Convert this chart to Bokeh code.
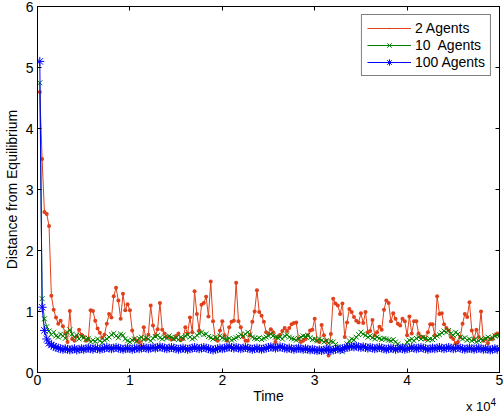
import numpy as np
from bokeh.plotting import figure
from bokeh.models import Range1d, LinearAxis, FixedTicker, Legend, LegendItem, Div
from bokeh.layouts import column
from bokeh.embed import file_html
from bokeh.resources import INLINE

# sample times (every 250 time units)
time = np.arange(250, 50001, 250)

agents_2 = [
    4.60, 3.50, 2.63, 2.60, 2.40, 1.26, 1.03, 0.90, 0.80, 0.85,
    0.76, 0.64, 0.50, 1.01, 0.55, 0.52, 0.59, 0.70, 0.62, 0.58,
    0.52, 0.55, 1.02, 1.01, 0.85, 0.72, 0.65, 0.57, 0.62, 0.80,
    0.96, 0.90, 1.25, 1.39, 1.18, 0.88, 1.29, 1.02, 1.12, 1.02,
    0.69, 0.55, 0.52, 0.50, 0.42, 0.74, 0.55, 0.62, 1.10, 0.77,
    0.60, 0.71, 1.14, 0.70, 0.64, 0.58, 0.58, 0.54, 0.55, 0.60,
    0.64, 0.53, 0.55, 0.74, 0.64, 0.90, 0.66, 1.33, 0.96, 0.69,
    1.11, 1.14, 1.24, 0.92, 1.49, 0.84, 0.55, 0.52, 0.69, 0.84,
    0.61, 0.52, 0.74, 0.83, 0.85, 1.47, 0.84, 0.74, 0.58, 0.52,
    0.52, 0.61, 0.83, 1.00, 1.35, 0.99, 0.93, 0.83, 0.66, 0.63,
    0.71, 0.66, 0.50, 0.58, 0.62, 0.68, 0.73, 0.68, 0.73, 0.79,
    0.81, 0.82, 0.55, 0.50, 0.52, 0.55, 0.61, 0.69, 0.70, 0.88,
    0.52, 0.50, 0.78, 0.61, 0.52, 0.28, 0.63, 1.21, 1.13, 1.10,
    0.96, 1.13, 0.58, 0.82, 1.04, 0.99, 0.91, 0.85, 0.82, 0.97,
    0.81, 0.99, 0.66, 0.68, 0.86, 0.61, 0.66, 0.75, 0.70, 1.03,
    1.18, 1.14, 0.84, 0.97, 0.88, 0.80, 0.77, 0.88, 0.84, 0.61,
    0.92, 0.64, 0.84, 0.84, 0.64, 0.58, 0.58, 0.55, 0.66, 0.79,
    0.79, 0.61, 1.25, 0.96, 0.97, 0.79, 0.73, 0.69, 0.58, 0.55,
    0.48, 0.50, 0.58, 0.80, 0.96, 0.91, 1.15, 0.69, 0.55, 0.70,
    0.58, 1.00, 0.52, 0.55, 0.48, 0.55, 0.55, 0.61, 0.64, 0.64,
]

agents_10 = [
    4.75, 1.21, 0.88, 0.75, 0.68, 0.62, 0.66, 0.60, 0.58, 0.63,
    0.60, 0.56, 0.66, 0.70, 0.63, 0.58, 0.61, 0.55, 0.59, 0.57,
    0.54, 0.56, 0.50, 0.53, 0.51, 0.55, 0.52, 0.49, 0.53, 0.55,
    0.58, 0.62, 0.64, 0.60, 0.57, 0.63, 0.61, 0.55, 0.52, 0.50,
    0.53, 0.55, 0.51, 0.56, 0.58, 0.54, 0.57, 0.55, 0.52, 0.56,
    0.59, 0.61, 0.57, 0.55, 0.58, 0.56, 0.60, 0.58, 0.55, 0.57,
    0.54, 0.58, 0.56, 0.60, 0.62, 0.58, 0.55, 0.57, 0.61, 0.64,
    0.66, 0.62, 0.63, 0.59, 0.57, 0.55, 0.58, 0.56, 0.60, 0.57,
    0.55, 0.54, 0.56, 0.53, 0.55, 0.57, 0.59, 0.62, 0.60, 0.63,
    0.66, 0.62, 0.58, 0.56, 0.55, 0.57, 0.54, 0.56, 0.58, 0.60,
    0.63, 0.60, 0.58, 0.57, 0.58, 0.55, 0.60, 0.62, 0.58, 0.56,
    0.55, 0.53, 0.56, 0.58, 0.60, 0.59, 0.61, 0.57, 0.54, 0.55,
    0.52, 0.55, 0.53, 0.50, 0.52, 0.48, 0.51, 0.50, 0.46, 0.42,
    0.38, 0.34, 0.40, 0.47, 0.52, 0.55, 0.53, 0.58, 0.62, 0.66,
    0.63, 0.61, 0.58, 0.60, 0.57, 0.55, 0.58, 0.56, 0.54, 0.56,
    0.55, 0.53, 0.52, 0.54, 0.50, 0.47, 0.43, 0.39, 0.44, 0.50,
    0.53, 0.55, 0.52, 0.56, 0.58, 0.55, 0.58, 0.56, 0.53, 0.55,
    0.54, 0.57, 0.60, 0.62, 0.65, 0.68, 0.66, 0.69, 0.64, 0.61,
    0.66, 0.63, 0.58, 0.55, 0.57, 0.53, 0.55, 0.52, 0.54, 0.50,
    0.52, 0.55, 0.53, 0.56, 0.58, 0.55, 0.57, 0.60, 0.61, 0.60,
]

agents_100 = [
    5.10, 1.07, 0.69, 0.55, 0.48, 0.45, 0.43, 0.41, 0.40, 0.39,
    0.38, 0.39, 0.38, 0.37, 0.38, 0.39, 0.37, 0.38, 0.39, 0.38,
    0.39, 0.40, 0.39, 0.38, 0.40, 0.39, 0.38, 0.39, 0.40, 0.41,
    0.40, 0.39, 0.40, 0.41, 0.40, 0.39, 0.38, 0.39, 0.40, 0.39,
    0.38, 0.39, 0.40, 0.39, 0.40, 0.41, 0.40, 0.39, 0.40, 0.41,
    0.40, 0.41, 0.42, 0.41, 0.40, 0.39, 0.40, 0.41, 0.40, 0.39,
    0.38, 0.39, 0.40, 0.39, 0.38, 0.39, 0.40, 0.41, 0.40, 0.39,
    0.40, 0.41, 0.40, 0.39, 0.38, 0.37, 0.38, 0.39, 0.40, 0.39,
    0.40, 0.41, 0.42, 0.41, 0.40, 0.41, 0.40, 0.39, 0.40, 0.41,
    0.40, 0.39, 0.38, 0.39, 0.40, 0.39, 0.38, 0.39, 0.40, 0.41,
    0.42, 0.41, 0.40, 0.41, 0.42, 0.41, 0.40, 0.39, 0.40, 0.39,
    0.38, 0.39, 0.40, 0.39, 0.38, 0.39, 0.38, 0.37, 0.38, 0.37,
    0.36, 0.37, 0.36, 0.37, 0.38, 0.37, 0.36, 0.37, 0.38, 0.39,
    0.38, 0.39, 0.40, 0.41, 0.42, 0.43, 0.42, 0.43, 0.42, 0.41,
    0.42, 0.41, 0.40, 0.41, 0.40, 0.39, 0.40, 0.41, 0.40, 0.39,
    0.38, 0.39, 0.40, 0.39, 0.38, 0.39, 0.40, 0.39, 0.38, 0.39,
    0.40, 0.41, 0.40, 0.39, 0.40, 0.41, 0.40, 0.39, 0.38, 0.39,
    0.40, 0.39, 0.40, 0.41, 0.40, 0.39, 0.40, 0.41, 0.40, 0.39,
    0.40, 0.41, 0.40, 0.39, 0.38, 0.39, 0.40, 0.39, 0.38, 0.39,
    0.40, 0.39, 0.38, 0.39, 0.38, 0.37, 0.38, 0.39, 0.38, 0.39,
]

series_labels = ["2 Agents", "10  Agents", "100 Agents"]
x_ticks = [0, 10000, 20000, 30000, 40000, 50000]
x_tick_labels = ["0", "1", "2", "3", "4", "5"]
y_ticks = [0, 1, 2, 3, 4, 5, 6]

FONT = "Liberation Sans"
FS = "14px"
RED = "#e0401a"
GREEN = "#008000"
BLUE = "#0000ff"

p = figure(width=504, height=408, output_backend="svg", toolbar_location=None,
           x_range=Range1d(0, 50000), y_range=Range1d(0, 6),
           x_axis_label="Time", y_axis_label="Distance from Equilibrium",
           min_border_left=35, min_border_right=5, min_border_top=6, min_border_bottom=36)
p.background_fill_color = "white"
p.border_fill_color = "white"
p.outline_line_color = "black"
p.outline_line_width = 1
p.xgrid.visible = False
p.ygrid.visible = False

def style_axis(ax, show_labels=True):
    ax.axis_line_color = "black"
    ax.axis_line_width = 1
    ax.major_tick_in = 4
    ax.major_tick_out = 0
    ax.minor_tick_line_color = None
    ax.major_tick_line_color = "black"
    ax.major_label_text_font = FONT
    ax.axis_label_text_font = FONT
    ax.axis_label_text_font_size = FS
    ax.axis_label_text_font_style = "normal"
    ax.axis_label_text_color = "black"
    if show_labels:
        ax.major_label_text_font_size = FS
        ax.major_label_text_color = "black"
    else:
        ax.major_label_text_font_size = "1px"
        ax.major_label_text_color = None
        ax.major_label_standoff = 0
        ax.axis_label_standoff = 0

xt = FixedTicker(ticks=x_ticks)
yt = FixedTicker(ticks=y_ticks)
overrides = {t: s for t, s in zip(x_ticks, x_tick_labels)}

p.xaxis.ticker = xt
p.xaxis.major_label_overrides = overrides
p.yaxis.ticker = yt
for ax in p.xaxis:
    style_axis(ax)
    ax.major_label_standoff = 2
    ax.axis_label_standoff = 0
for ax in p.yaxis:
    style_axis(ax)
    ax.major_label_standoff = 4
    ax.axis_label_standoff = 3

top_ax = LinearAxis(ticker=FixedTicker(ticks=x_ticks))
style_axis(top_ax, show_labels=False)
p.add_layout(top_ax, "above")
right_ax = LinearAxis(ticker=FixedTicker(ticks=y_ticks))
style_axis(right_ax, show_labels=False)
p.add_layout(right_ax, "right")

l2 = p.line(time, agents_2, line_color=RED, line_width=1)
s2 = p.scatter(time, agents_2, marker="dot", size=16, line_color=RED, fill_color=RED)
l10 = p.line(time, agents_10, line_color=GREEN, line_width=1)
s10 = p.scatter(time, agents_10, marker="x", size=7, line_color=GREEN, line_width=1)
l100 = p.line(time, agents_100, line_color=BLUE, line_width=1)
s100 = p.scatter(time, agents_100, marker="asterisk", size=9, line_color=BLUE, line_width=1)

legend = Legend(items=[
    LegendItem(label=series_labels[0], renderers=[l2, s2]),
    LegendItem(label=series_labels[1], renderers=[l10, s10]),
    LegendItem(label=series_labels[2], renderers=[l100, s100]),
], location="top_right")
legend.label_text_font = FONT
legend.label_text_font_size = FS
legend.label_text_color = "black"
legend.border_line_color = "black"
legend.border_line_width = 1
legend.background_fill_color = "white"
legend.background_fill_alpha = 1
legend.glyph_width = 44
legend.glyph_height = 16
legend.label_height = 16
legend.label_standoff = 4
legend.spacing = 1
legend.padding = 5
legend.margin = 8
p.add_layout(legend)

# axis multiplier note ("x 10^4") below the x axis, at the right
note = Div(text='x 10<span style="position:relative; top:-5px; font-size:10px">4</span>',
           width=34, height=14, margin=(-8, 0, 0, 466),
           styles={"font-family": FONT, "font-size": "13px", "line-height": "14px",
                   "color": "black", "position": "relative", "z-index": "5",
                   "white-space": "nowrap"})

layout = column(p, note, spacing=0)
open("out.html", "w").write(file_html(layout, INLINE))
